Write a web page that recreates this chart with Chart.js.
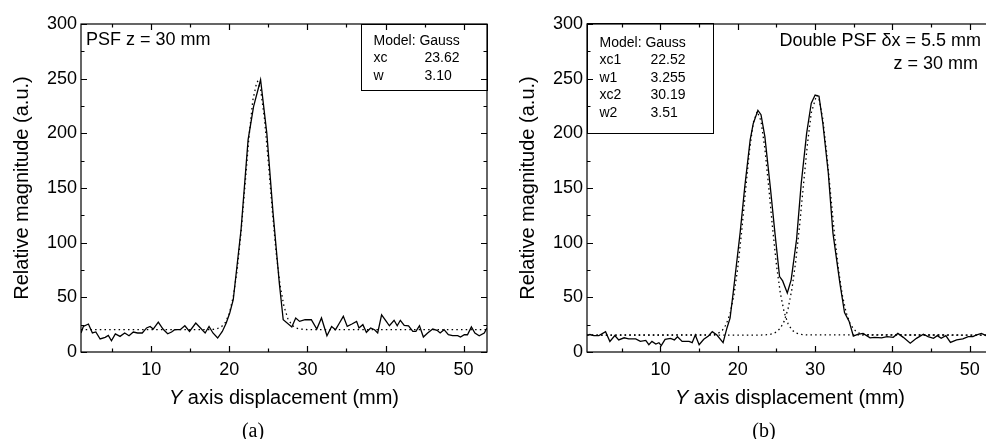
<!DOCTYPE html>
<html>
<head>
<meta charset="utf-8">
<script src="https://cdn.jsdelivr.net/npm/chart.js@4.4.1/dist/chart.umd.min.js"></script>
<style>
  html, body { margin: 0; padding: 0; background: #fff; }
  body { width: 986px; height: 439px; overflow: hidden; position: relative; }
  canvas { position: absolute; top: 0; }
  #chartA { left: 0; }
  #chartB { left: 506px; }
  .caption { position: absolute; width: 60px; text-align: center; font: 20px "Liberation Serif", serif; line-height: 24px; top: 418px; color: #000; }
</style>
</head>
<body>
<canvas id="chartA" width="493" height="439"></canvas>
<canvas id="chartB" width="493" height="439"></canvas>
<div class="caption" style="left:223px">(a)</div>
<div class="caption" style="left:734px">(b)</div>
<script>
// ---- tick labels ----
const xMajor = [10, 20, 30, 40, 50];
const xMinor = [5, 15, 25, 35, 45];
const yMajor = [0, 50, 100, 150, 200, 250, 300];
const yMinor = [25, 75, 125, 175, 225, 275];

// ---- (a) single PSF, measured ----
const psfA_x = [1.0, 1.3, 1.95, 2.46, 2.9, 3.45, 4.1, 4.5, 4.9, 5.4, 6.0, 6.6, 7.15, 7.7, 8.25, 8.85, 9.4, 9.85, 10.25, 10.9,
  11.5, 12.1, 12.6, 13.0, 13.7, 14.3, 14.9, 15.7, 16.3, 16.9, 17.4, 17.9, 18.5, 19.1, 19.6, 20.05, 20.5, 21.5, 22.4, 23.1,
  24.0, 24.8, 25.6, 26.4, 26.9, 28.0, 28.5, 29.0, 29.7, 30.5, 31.2, 31.8, 32.5, 33.1, 33.6, 34.1, 34.6, 35.1, 35.7, 36.3,
  36.6, 37.1, 37.55, 38.1, 38.6, 39.0, 39.5, 40.1, 40.5, 41.1, 41.5, 41.9, 42.4, 42.95, 43.5, 43.9, 44.35, 44.85, 45.4, 46.05,
  46.6, 47.0, 47.5, 48.05, 48.6, 49.25, 49.6, 50.1, 50.5, 51.0, 51.45, 52.0, 52.65, 53.0];
const psfA_y = [17.4, 23.4, 25.6, 17.4, 18.3, 11.9, 13.4, 15.2, 10.3, 16.5, 14.3, 17.4, 14.9, 18.3, 17.4, 17.4, 22, 23.4, 21, 27.4,
  21, 16.7, 18.3, 20.4, 20.4, 24, 18.8, 26.5, 22, 17.4, 23.4, 17.4, 12.8, 18.8, 26.5, 35.7, 47.8, 112, 194, 224.5,
  249, 200, 127, 63, 29.5, 22.9, 31.1, 28, 29.5, 29.5, 21, 31.1, 14.9, 23.4, 20.4, 26.5, 32.6, 23.4, 25.6, 28,
  22, 25, 18, 22, 20.4, 17.4, 34, 28, 24, 29, 24, 29, 24.4, 24, 18.8, 18.8, 24, 13.7, 17.4, 21,
  19.8, 17.4, 20.4, 15.8, 14.9, 14.9, 13.7, 15.8, 15.8, 22.9, 17.4, 14.9, 17.4, 22];

// ---- (a) Gauss fit ----
const fitA_x = [1, 17, 17.5, 18, 18.5, 19, 19.5, 20, 20.5, 21, 21.5, 22, 22.5, 23, 23.5, 23.62, 24, 24.5, 25, 25.5,
  26, 26.5, 27, 27.5, 28, 28.5, 29, 30, 53];
const fitA_y = [20.5, 20.5, 20.6, 20.8, 21.5, 23.2, 27.1, 35.3, 50.5, 74.9, 109.5, 152, 195.5, 230, 246.5, 247.5, 240.5, 213.5, 173.2, 129.5,
  90.4, 60.9, 41.6, 30.4, 24.7, 22.1, 21, 20.5, 20.5];

// ---- (b) double PSF, measured ----
const psfB_x = [0.54, 0.88, 1.4, 2.04, 2.9, 3.46, 4.1, 4.6, 5.3, 5.9, 6.8, 7.4, 8.1, 8.5, 8.9, 9.4, 9.8, 10.1, 10.6, 11.3,
  11.8, 12.2, 12.8, 13.7, 14.1, 14.5, 15.0, 15.6, 16.2, 16.7, 17.3, 18.1, 18.6, 19.0, 19.4, 20.3, 20.9, 21.6, 22.0, 22.6,
  23.0, 23.5, 24.2, 24.8, 25.4, 25.8, 26.4, 26.9, 27.6, 28.2, 28.9, 29.5, 30.0, 30.5, 31.0, 31.7, 32.3, 33.2, 33.8, 34.4,
  34.94, 35.5, 36.2, 37.1, 37.7, 38.6, 39.3, 40.1, 40.7, 41.4, 42.3, 43.1, 44.0, 44.6, 45.3, 45.8, 46.3, 46.9, 47.5, 48.3,
  49.1, 49.8, 50.4, 50.8, 51.5, 52.1, 52.6, 53.0];
const psfB_y = [15.5, 16, 15, 15, 18.6, 9.6, 15, 11, 13, 12, 12, 9.7, 10.6, 6.7, 9.7, 7.3, 8.5, 5.8, 11.6, 12.5,
  11, 14, 9.7, 9.7, 8.5, 15.5, 6.7, 11.6, 14.6, 18.6, 15.5, 8.5, 22, 31, 54, 109, 151, 194, 209, 221,
  217, 197, 151, 109, 69, 65, 54, 66, 103, 154, 200, 227.5, 235, 234, 209, 164, 109, 63, 36, 28,
  14.6, 16.2, 17, 13, 13.4, 13, 14, 13.4, 17, 13.4, 8, 12.5, 16.2, 14, 12.5, 15, 12.5, 15, 8.8, 11,
  12, 14, 14, 15.5, 17, 15, 14, 15];

// ---- (b) the two Gauss peaks ----
const fitB1_x = [0.5, 16, 17, 17.5, 18, 18.5, 19, 19.5, 20, 20.5, 21, 21.5, 22, 22.52, 23, 23.5, 24, 24.5, 25, 25.5,
  26, 26.5, 27, 27.5, 28, 29, 53];
const fitB1_y = [15.5, 15.6, 16.2, 17.3, 19.8, 25.2, 35.2, 52, 77.2, 110.2, 147.7, 183.5, 209.8, 220, 211.3, 186.1, 150.7, 113.1, 79.5, 53.7,
  36.3, 25.8, 20.1, 17.4, 16.2, 15.6, 15.5];
const fitB2_x = [0.5, 23, 24, 24.5, 25, 25.5, 26, 26.5, 27, 27.5, 28, 28.5, 29, 29.5, 30.19, 30.5, 31, 31.5, 32, 32.5,
  33, 33.5, 34, 34.5, 35, 35.5, 36, 37, 53];
const fitB2_y = [15.5, 15.5, 15.9, 16.7, 18.3, 21.7, 28.2, 39.6, 57.6, 83.3, 116.3, 153.6, 189.9, 218.7, 235, 231.6, 212.8, 181.6, 144.5, 107.8,
  76.4, 52.6, 36.3, 26.3, 20.6, 17.8, 16.4, 15.6, 15.5];

const FONT = '"Liberation Sans", Arial, sans-serif';

function pts(xs, ys) {
    return xs.map((x, i) => ({ x: x, y: ys[i] }));
}

function solid(xs, ys) {
    return { data: pts(xs, ys), borderColor: '#000', borderWidth: 1.3, pointRadius: 0, tension: 0, fill: false };
}

function dotted(xs, ys) {
    return { data: pts(xs, ys), borderColor: '#000', borderWidth: 1.3, borderDash: [1.5, 3.2], pointRadius: 0, tension: 0, fill: false };
}

// frame with inward ticks on all four sides, notes, parameter box, x title
const framePlugin = {
    id: 'frame',
    afterDatasetsDraw(chart, args, opts) {
        const ctx = chart.ctx;
        const a = chart.chartArea;
        const xs = chart.scales.x, ys = chart.scales.y;
        ctx.save();
        ctx.strokeStyle = '#000';
        ctx.lineWidth = 1.2;
        ctx.strokeRect(a.left, a.top, a.right - a.left, a.bottom - a.top);

        ctx.beginPath();
        const xt = (vals, len) => {
            for (const v of vals) {
                const p = Math.round(xs.getPixelForValue(v)) + 0.5;
                ctx.moveTo(p, a.bottom); ctx.lineTo(p, a.bottom - len);
                ctx.moveTo(p, a.top); ctx.lineTo(p, a.top + len);
            }
        };
        const yt = (vals, len) => {
            for (const v of vals) {
                const p = Math.round(ys.getPixelForValue(v)) + 0.5;
                ctx.moveTo(a.left, p); ctx.lineTo(a.left + len, p);
                ctx.moveTo(a.right, p); ctx.lineTo(a.right - len, p);
            }
        };
        xt(xMajor, 6); xt(xMinor, 3.5);
        yt(yMajor, 6); yt(yMinor, 3.5);
        ctx.stroke();

        ctx.fillStyle = '#000';
        ctx.textBaseline = 'alphabetic';
        for (const n of opts.notes) {
            ctx.font = n.size + 'px ' + FONT;
            ctx.textAlign = n.align;
            ctx.fillText(n.text, n.x, n.y);
        }

        const b = opts.box;
        ctx.lineWidth = 1;
        ctx.strokeRect(b.x + 0.5, b.y + 0.5, b.w, b.h);
        ctx.font = '14px ' + FONT;
        ctx.textAlign = 'left';
        b.rows.forEach((r, i) => {
            const yy = b.y + b.first + i * 17.4;
            ctx.fillText(r[0], b.x + 12.5, yy);
            if (r[1]) ctx.fillText(r[1], b.x + 63.5, yy);
        });

        // x title with italic Y
        const italic = 'italic 20px ' + FONT, upright = '20px ' + FONT;
        ctx.font = italic;
        const w1 = ctx.measureText('Y').width;
        ctx.font = upright;
        const rest = ' axis displacement (mm)';
        const w2 = ctx.measureText(rest).width;
        const x0 = (a.left + a.right) / 2 - (w1 + w2) / 2;
        const yb = a.bottom + 52;
        ctx.font = italic;
        ctx.fillText('Y', x0, yb);
        ctx.font = upright;
        ctx.fillText(rest, x0 + w1, yb);
        ctx.restore();
    }
};

function makeChart(id, xmin, datasets, frameOpts) {
    return new Chart(document.getElementById(id).getContext('2d'), {
        type: 'line',
        data: { datasets: datasets },
        plugins: [framePlugin],
        options: {
            responsive: false,
            animation: false,
            layout: { padding: { top: 24, right: 6, left: 0, bottom: 0 } },
            plugins: {
                legend: { display: false },
                tooltip: { enabled: false },
                frame: frameOpts
            },
            scales: {
                x: {
                    type: 'linear',
                    min: xmin,
                    max: 53,
                    grid: { display: false, drawTicks: false },
                    border: { display: false },
                    ticks: { color: '#000', font: { family: FONT, size: 18 }, padding: 7, maxRotation: 0, autoSkip: false },
                    afterBuildTicks: s => { s.ticks = xMajor.map(v => ({ value: v })); },
                    afterFit: s => { s.height = 87; }
                },
                y: {
                    type: 'linear',
                    min: 0,
                    max: 300,
                    grid: { display: false, drawTicks: false },
                    border: { display: false },
                    ticks: { color: '#000', font: { family: FONT, size: 18 }, padding: 4 },
                    afterBuildTicks: s => { s.ticks = yMajor.map(v => ({ value: v })); },
                    afterFit: s => { s.width = 81; },
                    title: {
                        display: true,
                        text: 'Relative magnitude (a.u.)',
                        color: '#000',
                        font: { family: FONT, size: 20 },
                        padding: { top: 10, bottom: 0 }
                    }
                }
            }
        }
    });
}

makeChart('chartA', 1, [dotted(fitA_x, fitA_y), solid(psfA_x, psfA_y)], {
    notes: [{ text: 'PSF z = 30 mm', x: 86, y: 45, align: 'left', size: 18 }],
    box: { x: 361, y: 24, w: 126, h: 66, first: 20.7, rows: [['Model: Gauss'], ['xc', '23.62'], ['w', '3.10']] }
});

makeChart('chartB', 0.5, [dotted(fitB1_x, fitB1_y), dotted(fitB2_x, fitB2_y), solid(psfB_x, psfB_y)], {
    notes: [
        { text: 'Double PSF \u03b4x = 5.5 mm', x: 475, y: 46, align: 'right', size: 18 },
        { text: 'z = 30 mm', x: 472, y: 68.5, align: 'right', size: 18 }
    ],
    box: { x: 81, y: 23, w: 126, h: 110, first: 24, rows: [['Model: Gauss'], ['xc1', '22.52'], ['w1', '3.255'], ['xc2', '30.19'], ['w2', '3.51']] }
});
</script>
</body>
</html>
